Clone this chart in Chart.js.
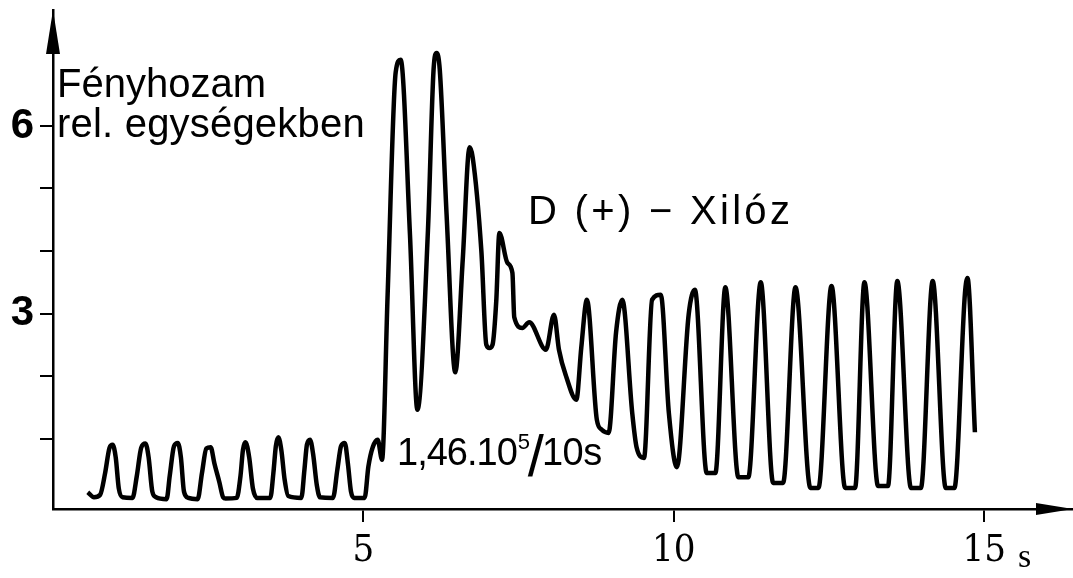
<!DOCTYPE html>
<html>
<head>
<meta charset="utf-8">
<script src="https://cdn.jsdelivr.net/npm/chart.js@4.4.1/dist/chart.umd.min.js"></script>
<style>
html,body{margin:0;padding:0;background:#fff;}
#wrap{width:1073px;height:578px;}
</style>
</head>
<body>
<div id="wrap"><canvas id="c" width="1073" height="578"></canvas></div>
<script>
// time in seconds
const timeS = [
0.56,0.66,0.76,0.84,0.91,0.96,1.01,1.06,1.12,1.28,
1.35,1.42,1.49,1.54,1.60,1.66,1.83,
1.88,1.95,2.01,2.06,2.11,2.18,2.33,
2.40,2.47,2.54,2.60,2.68,2.74,2.78,2.96,
3.02,3.06,3.10,3.16,3.22,3.29,3.50,
3.55,3.59,3.63,3.68,3.73,3.79,4.00,
4.05,4.09,4.14,4.19,4.25,4.30,4.51,
4.58,4.64,4.70,4.75,4.80,4.85,5.02,
5.08,5.15,5.23,5.30,
5.39,5.52,5.60,5.75,5.87,
6.04,6.13,6.18,6.23,6.34,6.48,
6.60,6.71,6.76,6.90,6.98,7.03,7.08,
7.14,7.19,7.32,7.40,7.43,7.56,7.67,7.94,8.07,8.15,8.27,8.43,
8.51,8.60,8.76,8.84,8.95,
9.07,9.17,9.33,9.40,9.52,
9.65,9.79,9.92,10.05,
10.24,10.34,10.53,10.67,
10.83,11.04,11.20,
11.40,11.60,11.76,
11.96,12.20,12.33,
12.54,12.76,12.92,
13.07,13.29,13.45,
13.60,13.82,13.98,
14.17,14.38,14.52,
14.69,14.73,14.85
];
// relative light yield
const yieldRel = [
0.14,0.06,0.10,0.45,0.85,0.90,0.70,0.20,0.06,0.05,
0.40,0.85,0.92,0.70,0.15,0.06,0.03,
0.40,0.88,0.93,0.70,0.15,0.05,0.03,
0.45,0.84,0.86,0.60,0.30,0.06,0.04,0.05,
0.40,0.82,0.94,0.70,0.20,0.05,0.05,
0.45,0.88,1.02,0.80,0.35,0.08,0.05,
0.50,0.90,0.98,0.75,0.25,0.06,0.05,
0.50,0.88,0.93,0.60,0.15,0.05,0.05,
0.55,0.86,0.98,0.66,
3.30,6.86,7.06,4.26,1.46,
4.34,6.90,7.17,6.90,4.58,2.06,
3.86,5.66,5.50,4.00,2.50,2.45,2.50,
3.20,4.29,3.81,3.65,2.94,2.77,2.86,2.42,2.98,2.42,1.98,1.62,
2.46,3.22,1.30,1.14,1.09,
2.70,3.22,1.41,0.86,0.69,
3.22,3.30,1.41,0.54,
2.99,3.38,0.45,0.45,
3.42,0.38,0.38,
3.50,0.29,0.29,
3.42,0.21,0.21,
3.44,0.21,0.21,
3.50,0.24,0.24,
3.52,0.21,0.21,
3.52,0.21,0.21,
3.33,3.57,1.10
];
const xTickValues = [5,10,15];
const yTickValues = [1,2,3,4,5,6];
const yTickLabels = [3,6];

const points = timeS.map((t,i)=>({x:t,y:yieldRel[i]}));

const annot = {
  id:'annot',
  afterDraw(chart){
    const ctx = chart.ctx;
    const ca = chart.chartArea;
    ctx.save();
    ctx.fillStyle = '#000';
    ctx.strokeStyle = '#000';
    // axis arrows
    ctx.beginPath();
    ctx.moveTo(ca.left, 10);
    ctx.lineTo(ca.left-7, 54);
    ctx.lineTo(ca.left+7, 54);
    ctx.closePath();
    ctx.fill();
    ctx.beginPath();
    ctx.moveTo(1073, ca.bottom);
    ctx.lineTo(1036, ca.bottom-6);
    ctx.lineTo(1036, ca.bottom+6);
    ctx.closePath();
    ctx.fill();
    // texts
    ctx.textBaseline = 'alphabetic';
    ctx.textAlign = 'left';
    ctx.font = '40px "Liberation Sans", Arial, sans-serif';
    ctx.fillText('Fényhozam', 57, 97);
    ctx.font = '40px "Liberation Sans", Arial, sans-serif';
    ctx.letterSpacing = '0.2px';
    ctx.fillText('rel. egységekben', 57, 137);
    ctx.font = '40px "Liberation Sans", Arial, sans-serif';
    ctx.letterSpacing = '3.3px';
    ctx.fillText('D (+) \u2212 Xilóz', 528, 224);
    ctx.letterSpacing = '-1px';
    ctx.font = '38px "Liberation Sans", Arial, sans-serif';
    let x = 397;
    ctx.fillText('1,46.10', x, 465);
    x += ctx.measureText('1,46.10').width;
    ctx.font = '22px "Liberation Sans", Arial, sans-serif';
    ctx.letterSpacing = '0px';
    ctx.fillText('5', x+1, 449);
    x += 11;
    ctx.font = '58px "Liberation Sans", Arial, sans-serif';
    ctx.fillText('/', x, 476);
    x += ctx.measureText('/').width - 2;
    ctx.font = '38px "Liberation Sans", Arial, sans-serif';
    ctx.letterSpacing = '-0.5px';
    ctx.fillText('10s', x, 465);
    ctx.letterSpacing = '0px';
    ctx.font = '34px "Liberation Serif", serif';
    ctx.fillText('s', 1018, 567);
    ctx.restore();
  }
};

new Chart(document.getElementById('c'), {
  type:'line',
  data:{datasets:[{
    data:points,
    borderColor:'#000',
    borderWidth:4.5,
    pointRadius:0,
    fill:false,
    cubicInterpolationMode:'monotone',
    clip:false
  }]},
  options:{
    responsive:false,
    animation:false,
    devicePixelRatio:1,
    layout:{padding:{top:10,left:0,right:0,bottom:0}},
    plugins:{legend:{display:false},tooltip:{enabled:false}},
    scales:{
      x:{
        type:'linear', min:0, max:16.43,
        afterFit(s){ s.height = 69; s.paddingLeft = 0; s.paddingRight = 0; },
        afterBuildTicks(s){ s.ticks = xTickValues.map(v=>({value:v})); },
        border:{display:true,color:'#000',width:2.5},
        grid:{display:true,drawOnChartArea:false,drawTicks:true,tickLength:13,color:'#000',lineWidth:2},
        ticks:{color:'#000',padding:6,maxRotation:0,autoSkip:false,
          font:{family:'"DejaVu Serif Condensed","Liberation Serif",serif',size:38},
          callback:(v)=>xTickValues.includes(v)?String(v):''}
      },
      y:{
        type:'linear', min:-0.128, max:7.856,
        afterFit(s){ s.width = 53; s.paddingTop = 0; s.paddingBottom = 0; },
        afterBuildTicks(s){ s.ticks = yTickValues.map(v=>({value:v})); },
        border:{display:true,color:'#000',width:2.5},
        grid:{display:true,drawOnChartArea:false,drawTicks:true,tickLength:13,color:'#000',lineWidth:2},
        ticks:{color:'#000',padding:6,autoSkip:false,
          font:{family:'"Liberation Sans",Arial,sans-serif',size:42,weight:'bold'},
          callback:(v)=>yTickLabels.includes(v)?String(v):''}
      }
    }
  },
  plugins:[annot]
});
</script>
</body>
</html>
